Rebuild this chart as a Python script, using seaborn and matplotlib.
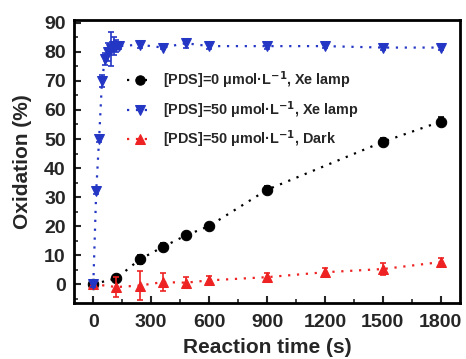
import matplotlib
matplotlib.use("Agg")
import matplotlib.pyplot as plt
import seaborn as sns
import pandas as pd
from matplotlib.ticker import MultipleLocator

# ---- data ----
t_black = [0, 120, 240, 360, 480, 600, 900, 1500, 1800]
ox_black = [0, 2, 8.5, 12.8, 16.8, 20, 32.5, 49, 56]
err_black = [0.5, 1, 1.5, 1.5, 0.8, 1, 1.2, 1.5, 1.5]

t_blue = [0, 15, 30, 45, 60, 75, 90, 105, 120, 135, 240, 360, 480, 600, 900, 1200, 1500, 1800]
ox_blue = [0, 32, 50, 70, 77.5, 80, 81, 82, 82, 82, 82.5, 81.5, 83, 82, 82, 82, 81.5, 81.5]
err_blue = [1, 1, 1, 2, 2, 3, 6, 3, 2, 1, 1, 0.5, 1.5, 1, 1, 0.8, 0.8, 0.8]

t_red = [0, 120, 240, 360, 480, 600, 900, 1200, 1500, 1800]
ox_red = [0, -1, -0.5, 0.7, 0.5, 1.3, 2.4, 4.1, 5.2, 7.6]
err_red = [0.5, 3.5, 5, 3, 2, 1.5, 1.5, 1.5, 2, 1.5]

labels = [r"[PDS]=0 μmol·L$^{\mathbf{-1}}$, Xe lamp",
          r"[PDS]=50 μmol·L$^{\mathbf{-1}}$, Xe lamp",
          r"[PDS]=50 μmol·L$^{\mathbf{-1}}$, Dark"]
xticks = [0, 300, 600, 900, 1200, 1500, 1800]
yticks = [0, 10, 20, 30, 40, 50, 60, 70, 80, 90]

sns.set_style("ticks")
plt.rcParams['font.family'] = ['Liberation Sans', 'DejaVu Sans']
plt.rcParams['font.weight'] = 'bold'
plt.rcParams['mathtext.default'] = 'bf'

fig = plt.figure(figsize=(4.66, 3.59), dpi=100)
ax = fig.add_axes([74/466, 56/359, 386/466, 283/359])

series = [
    (t_black, ox_black, err_black, "black", "o", labels[0], 3),
    (t_blue, ox_blue, err_blue, "#2436c4", "v", labels[1], 5),
    (t_red, ox_red, err_red, "#ee2222", "^", labels[2], 4),
]
for t, y, e, c, m, lab, z in series:
    df = pd.DataFrame({"t": t, "y": y})
    sns.lineplot(data=df, x="t", y="y", ax=ax, color=c, marker=m, markersize=7.5,
                 markeredgecolor=c, linestyle=(0, (1, 3)), linewidth=1.6,
                 label=lab, zorder=z, sort=False)
    ax.errorbar(t, y, yerr=e, fmt="none", ecolor=c, elinewidth=1.2, capsize=2.5,
                capthick=1.2, zorder=z)

ax.set_xlim(-100, 1900)
ax.set_ylim(-6.5, 91)
ax.set_xticks(xticks)
ax.set_yticks(yticks)
ax.xaxis.set_minor_locator(MultipleLocator(150))
ax.yaxis.set_minor_locator(MultipleLocator(5))
ax.tick_params(which="major", direction="in", length=5, width=1.5, labelsize=14,
               top=False, right=False, pad=6)
ax.tick_params(axis="x", which="major", pad=8)
ax.tick_params(which="minor", direction="in", length=3, width=1.2, top=False, right=False)
for lab in ax.get_xticklabels() + ax.get_yticklabels():
    lab.set_fontweight("bold")
for s in ax.spines.values():
    s.set_visible(True)
    s.set_linewidth(2)
    s.set_color("black")

ax.set_xlabel("Reaction time (s)", fontsize=15, fontweight="bold", labelpad=5)
ax.set_ylabel("Oxidation (%)", fontsize=15, fontweight="bold", labelpad=9)

leg = ax.legend(loc="upper left", bbox_to_anchor=(0.137, 0.825), frameon=False,
                fontsize=10.4, handlelength=1.8, handletextpad=0.7, labelspacing=0.55,
                borderpad=0, borderaxespad=0, markerscale=0.9)
for txt in leg.get_texts():
    txt.set_fontweight("bold")

fig.savefig("out.png", dpi=100)
